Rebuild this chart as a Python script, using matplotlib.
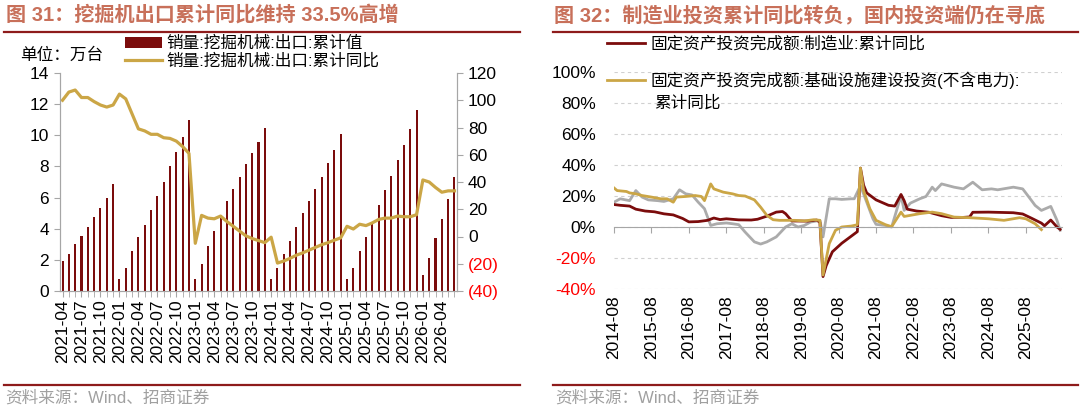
import matplotlib
matplotlib.use("Agg")
import matplotlib.pyplot as plt
from matplotlib.lines import Line2D
from matplotlib.patches import Patch
from matplotlib.ticker import MultipleLocator
import pandas as pd

plt.rcParams["font.family"] = ["Liberation Sans", "Noto Sans CJK SC"]
plt.rcParams["axes.unicode_minus"] = False

# ---- 图31: 挖掘机出口 (monthly, from 2021-04)
exc_start = "2021-04"
exc_cum = [1.9, 2.4, 3.0, 3.55, 4.1, 4.75, 5.35, 6.0, 6.85,
           0.8, 1.5, 2.6, 3.45, 4.25, 5.2, 6.1, 7.0, 8.05, 8.95, 9.9, 10.95,
           0.75, 1.75, 2.9, 3.85, 4.85, 5.8, 6.55, 7.3, 8.15, 8.85, 9.6, 10.5,
           0.75, 1.45, 2.4, 3.2, 4.1, 5.0, 5.75, 6.55, 7.35, 8.2, 9.05, 10.1,
           0.8, 1.5, 2.55, 3.5, 4.45, 5.5, 6.5, 7.4, 8.4, 9.4, 10.4, 11.65,
           1.05, 2.1, 3.4, 4.6, 5.9, 7.3]
exc_yoy = [100, 106, 107.5, 102, 102, 99, 96.5, 95, 96.5,
           104.5, 101, 90, 79, 77.5, 75, 75, 72.5, 72, 70, 66, 61,
           -5, 15.5, 13.5, 13, 15, 11, 7.5, 4, 0.5, -1.5, -3, -4.5,
           -0.5, -19.5, -18, -16, -13.7, -12, -10, -8, -6, -4.5, -2.7, -1,
           7.5, 5.5, 9, 8, 10, 12.5, 13.5, 13.5, 15, 14.5, 14.5, 16,
           41.5, 40, 36, 32.5, 33.5, 33.5]

# ---- 图32: 固定资产投资累计同比, x = months after 2014-08
mfg_x = [0, 2, 5, 7, 10, 13, 16, 19, 22, 24, 27, 30, 32, 34, 36, 40, 44, 46, 49, 52,
         54, 55, 57, 62, 65, 66, 67, 68, 70, 73, 76, 78, 79, 80, 81, 84, 88, 90, 92, 93,
         94, 97, 101, 105, 108, 112, 114, 115, 120, 128, 131, 134, 137, 138, 140, 142, 143]
mfg_y = [14.5, 14, 13.5, 11.5, 10.3, 9.8, 8.5, 7.8, 5.5, 3.3, 3.5, 4.3, 5.8, 4.8, 5.3, 4.6, 4.5, 5, 7, 9.6,
         10, 8.6, 3.9, 3.8, 4.5, 3, -32, -25, -16, -10.5, -6, -3, 38, 27, 22, 17.5, 14, 13.5, 21, 17,
         11.5, 10.3, 9.5, 7.3, 6.2, 6.2, 6.5, 9.5, 9.6, 9.2, 8.4, 5.5, 2.5, 0.8, 4.5, 0, -1.5]

infra_x = [0, 1, 4, 5, 7, 9, 12, 15, 17, 19, 20, 23, 26, 28, 29, 31, 32, 35, 38, 40,
           42, 45, 47, 49, 51, 53, 58, 61, 64, 66, 67, 69, 71, 73, 76, 77, 78, 79, 80, 82,
           84, 87, 89, 92, 93, 98, 102, 105, 109, 114, 120, 125, 130, 132, 135, 137]
infra_y = [25.2, 23.5, 22.9, 22, 21.4, 20.3, 19.3, 18.2, 18.2, 16, 19.3, 19.7, 20.3, 19.7, 17, 27.8, 24.6, 22.5, 21.4, 20.3,
           20, 17.5, 12.8, 7.5, 4.7, 4.3, 4.3, 3.9, 4.7, 4.3, -31, -10.7, -2.1, 0, 0.6, 1, 1.5, 38, 23.5, 11.8,
           4.3, 1.5, 0.2, 9.6, 6.8, 8.6, 9.6, 8.6, 6.4, 6, 5.3, 4.3, 6, 5.3, 2.1, -1.7]

grey_x = [0, 2, 5, 7, 9, 11, 14, 16, 19, 21, 23, 25, 27, 29, 31, 33, 36, 38, 40, 42,
          45, 47, 49, 52, 55, 57, 59, 61, 63, 66, 67, 69, 71, 73, 76, 77, 79, 81, 83, 84,
          87, 89, 92, 93, 95, 98, 100, 102, 103, 105, 109, 112, 115, 118, 121, 123, 128, 131, 133, 135,
          137, 140, 142, 143]
grey_y = [16, 18.2, 17, 23.5, 19.3, 17.5, 17, 16.5, 18.2, 24, 21.4, 20.7, 16, 11.8, 1, 2.1, 2.6, 2.1, 1.5, -3.2,
          -9.6, -11, -9.6, -6.4, 0, 2.1, 0, 1, 3.2, 4.3, -6.4, 18.2, 18.2, 17.8, 18.2, 18.2, 26.7, 16, 5.3, 1.7,
          1, 0, 20.3, 10.7, 15.4, 18.2, 19.7, 25.7, 23.5, 27.8, 25.7, 24.6, 28.9, 24, 24.6, 24, 25.7, 24.6, 19.3, 13.9,
          10.7, 13.3, 4.3, -2.1]

fai_ticks = list(range(0, 133, 12))
fai_tick_labels = [f"{y}-08" for y in range(2014, 2026)]

MAROON = "#7B0C0C"
GOLD = "#CBA646"
GREY = "#ABABAB"
TITLE_C = "#C8705A"
RULE_C = "#8E1B1B"
AXIS_C = "#A6A6A6"
NEG_C = "#FF0000"

W, H = 1080, 409
fig = plt.figure(figsize=(W / 100, H / 100), dpi=100)


def fx(px):
    return px / W


def fy(py):
    return 1 - py / H


# ---------------- left chart ----------------
ax1 = fig.add_axes([fx(60), fy(291), fx(457) - fx(60), fy(73) - fy(291)])
n = len(exc_cum)
xs = list(range(n))
months = pd.period_range(exc_start, periods=n, freq="M").strftime("%Y-%m")

ax1.bar(xs, exc_cum, width=0.32, color=MAROON, zorder=2)
ax1.set_xlim(-0.4, n - 0.6)
ax1.set_ylim(0, 14)
ax1.set_yticks(range(0, 15, 2))
ax1.set_xticks(xs[::3], months[::3], rotation=90)
ax1.xaxis.set_minor_locator(MultipleLocator(1))

ax1b = ax1.twinx()
ax1b.plot(xs, exc_yoy, color=GOLD, lw=2.3)
ax1b.set_ylim(-40, 120)
rt = list(range(-40, 121, 20))
ax1b.set_yticks(rt, [f"({-v})" if v < 0 else f"{v}" for v in rt])
for lab, v in zip(ax1b.get_yticklabels(), rt):
    if v < 0:
        lab.set_color(NEG_C)

for a in (ax1, ax1b):
    a.spines["top"].set_visible(False)
    for s in ("left", "right", "bottom"):
        a.spines[s].set_color(AXIS_C)
ax1.tick_params(axis="both", which="both", direction="out", length=4, color=AXIS_C, labelsize=12.5)
ax1.tick_params(axis="y", pad=4)
ax1.tick_params(axis="x", pad=2)
ax1b.tick_params(axis="y", direction="out", length=4, color=AXIS_C, labelsize=12.5, pad=4)

fig.legend([Patch(facecolor=MAROON), Line2D([], [], color=GOLD, lw=2.3)],
           ["销量:挖掘机械:出口:累计值", "销量:挖掘机械:出口:累计同比"],
           loc="upper left", bbox_to_anchor=(fx(125), fy(36)), frameon=False,
           fontsize=12, handlelength=2.2, handletextpad=0.3, labelspacing=0.12,
           borderpad=0, borderaxespad=0)
fig.text(fx(20), fy(55), "单位：万台", fontsize=12, va="center")

# ---------------- right chart ----------------
ax2 = fig.add_axes([fx(614), fy(289), fx(1062) - fx(614), fy(72) - fy(289)])
ax2.set_xlim(0, 143.6)
ax2.set_ylim(-40, 100)
yt = list(range(-40, 101, 20))
ax2.set_yticks(yt, [f"{v}%" for v in yt])
for lab, v in zip(ax2.get_yticklabels(), yt):
    if v < 0:
        lab.set_color(NEG_C)
ax2.grid(axis="y", color="#D0D0D0", ls=(0, (3, 3)), lw=0.8)
ax2.set_axisbelow(True)
for s in ("left", "right", "top"):
    ax2.spines[s].set_visible(False)
ax2.spines["bottom"].set_position(("data", 0))
ax2.spines["bottom"].set_color(AXIS_C)
ax2.set_xticks(fai_ticks, fai_tick_labels, rotation=90)
ax2.tick_params(axis="y", length=0, labelsize=12.5, pad=13)
ax2.tick_params(axis="x", direction="out", length=4, color=AXIS_C, labelsize=12.5, pad=45)

ax2.plot(grey_x, grey_y, color=GREY, lw=2)
ax2.plot(mfg_x, mfg_y, color=MAROON, lw=2)
ax2.plot(infra_x, infra_y, color=GOLD, lw=2)

fig.legend([Line2D([], [], color=MAROON, lw=2), Line2D([], [], color=GOLD, lw=2)],
           ["固定资产投资完成额:制造业:累计同比", "固定资产投资完成额:基础设施建设投资(不含电力):"],
           loc="upper left", bbox_to_anchor=(fx(607), fy(36)), frameon=False,
           fontsize=12, handlelength=2.3, handletextpad=0.3, labelspacing=1.2,
           borderpad=0, borderaxespad=0)
fig.text(fx(654), fy(103), "累计同比", fontsize=12, va="center")

# ---------------- titles, rules, sources ----------------
fig.text(fx(6), fy(15), "图 31：挖掘机出口累计同比维持 33.5%高增", fontsize=14.5,
         fontweight="bold", color=TITLE_C, va="center")
fig.text(fx(554), fy(15), "图 32：制造业投资累计同比转负，国内投资端仍在寻底", fontsize=14.5,
         fontweight="bold", color=TITLE_C, va="center")
for x0, x1 in ((4, 520), (553, 1078)):
    for yy in (32, 385):
        fig.add_artist(Line2D([fx(x0), fx(x1)], [fy(yy), fy(yy)], transform=fig.transFigure,
                              color=RULE_C, lw=1.6))
fig.text(fx(5), fy(398), "资料来源：Wind、招商证券", fontsize=12, color="#A0A0A0", va="center")
fig.text(fx(555), fy(398), "资料来源：Wind、招商证券", fontsize=12, color="#A0A0A0", va="center")

fig.savefig("out.png", dpi=100)
